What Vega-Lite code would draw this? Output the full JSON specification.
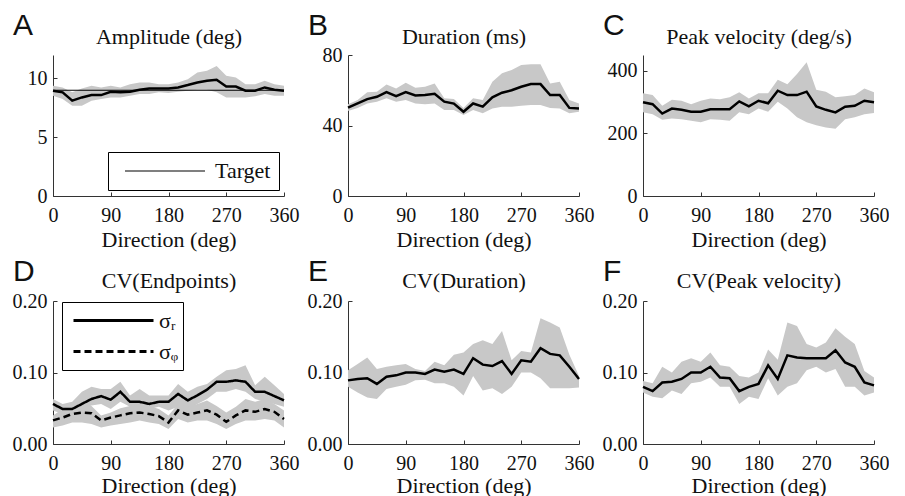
{
  "$schema": "https://vega.github.io/schema/vega-lite/v6.json",
  "padding": {"left": 12, "top": 10, "right": 0, "bottom": 0},
  "background": "white",
  "data": {"values": [
    {"p":"A","d":0,"m":8.96,"lo":8.54,"hi":9.38},{"p":"A","d":15,"m":8.82,"lo":8.25,"hi":9.24},{"p":"A","d":30,"m":8.11,"lo":7.69,"hi":8.82},{"p":"A","d":45,"m":8.39,"lo":7.69,"hi":9.15},{"p":"A","d":60,"m":8.59,"lo":8.11,"hi":9.38},{"p":"A","d":75,"m":8.59,"lo":8.25,"hi":9.24},{"p":"A","d":90,"m":8.87,"lo":8.39,"hi":9.38},{"p":"A","d":105,"m":8.82,"lo":8.39,"hi":9.24},{"p":"A","d":120,"m":8.87,"lo":8.54,"hi":9.52},{"p":"A","d":135,"m":9.04,"lo":8.68,"hi":9.66},{"p":"A","d":150,"m":9.15,"lo":8.68,"hi":9.66},{"p":"A","d":165,"m":9.15,"lo":8.82,"hi":9.52},{"p":"A","d":180,"m":9.15,"lo":8.76,"hi":9.52},{"p":"A","d":195,"m":9.24,"lo":8.87,"hi":9.66},{"p":"A","d":210,"m":9.44,"lo":8.96,"hi":9.94},{"p":"A","d":225,"m":9.66,"lo":9.04,"hi":10.51},{"p":"A","d":240,"m":9.8,"lo":9.04,"hi":10.65},{"p":"A","d":255,"m":9.89,"lo":8.82,"hi":11.07},{"p":"A","d":270,"m":9.32,"lo":8.39,"hi":10.23},{"p":"A","d":285,"m":9.32,"lo":8.39,"hi":10.08},{"p":"A","d":300,"m":8.96,"lo":8.39,"hi":9.52},{"p":"A","d":315,"m":8.96,"lo":8.48,"hi":9.52},{"p":"A","d":330,"m":9.24,"lo":8.68,"hi":9.8},{"p":"A","d":345,"m":9.04,"lo":8.54,"hi":9.52},{"p":"A","d":360,"m":8.96,"lo":8.54,"hi":9.38},
    {"p":"T","d":0,"m":9,"s":"Target"},{"p":"T","d":360,"m":9,"s":"Target"},
    {"p":"B","d":0,"m":50.1,"lo":48.2,"hi":52},{"p":"B","d":15,"m":52.5,"lo":50,"hi":54.4},{"p":"B","d":30,"m":55,"lo":52.5,"hi":58.8},{"p":"B","d":45,"m":56.3,"lo":53.5,"hi":59.2},{"p":"B","d":60,"m":59,"lo":55.4,"hi":63.3},{"p":"B","d":75,"m":56.7,"lo":53.5,"hi":61},{"p":"B","d":90,"m":59,"lo":54.4,"hi":64.3},{"p":"B","d":105,"m":57,"lo":52.5,"hi":61.4},{"p":"B","d":120,"m":57.3,"lo":52,"hi":62},{"p":"B","d":135,"m":58,"lo":52.5,"hi":63.9},{"p":"B","d":150,"m":53.5,"lo":48.8,"hi":55.4},{"p":"B","d":165,"m":52.4,"lo":48.8,"hi":55},{"p":"B","d":180,"m":47.8,"lo":46,"hi":50},{"p":"B","d":195,"m":52.5,"lo":48.8,"hi":55.4},{"p":"B","d":210,"m":50.7,"lo":46.9,"hi":54.4},{"p":"B","d":225,"m":56,"lo":49.7,"hi":64.8},{"p":"B","d":240,"m":58.6,"lo":50.7,"hi":69.6},{"p":"B","d":255,"m":60,"lo":50.7,"hi":71.5},{"p":"B","d":270,"m":62,"lo":51.2,"hi":74.3},{"p":"B","d":285,"m":63.5,"lo":51.6,"hi":74.7},{"p":"B","d":300,"m":63.5,"lo":51.6,"hi":74.7},{"p":"B","d":315,"m":57.3,"lo":50,"hi":63.9},{"p":"B","d":330,"m":57.3,"lo":49.7,"hi":64.8},{"p":"B","d":345,"m":50,"lo":46.9,"hi":54.4},{"p":"B","d":360,"m":49.7,"lo":47.8,"hi":52.5},
    {"p":"C","d":0,"m":299,"lo":267,"hi":328},{"p":"C","d":15,"m":293,"lo":261,"hi":322},{"p":"C","d":30,"m":263,"lo":243,"hi":288},{"p":"C","d":45,"m":279,"lo":247,"hi":307},{"p":"C","d":60,"m":275,"lo":245,"hi":304},{"p":"C","d":75,"m":269,"lo":240,"hi":293},{"p":"C","d":90,"m":269,"lo":235,"hi":304},{"p":"C","d":105,"m":277,"lo":245,"hi":311},{"p":"C","d":120,"m":277,"lo":243,"hi":309},{"p":"C","d":135,"m":277,"lo":240,"hi":315},{"p":"C","d":150,"m":302,"lo":267,"hi":331},{"p":"C","d":165,"m":286,"lo":261,"hi":311},{"p":"C","d":180,"m":304,"lo":279,"hi":328},{"p":"C","d":195,"m":296,"lo":269,"hi":328},{"p":"C","d":210,"m":336,"lo":301,"hi":371},{"p":"C","d":225,"m":322,"lo":279,"hi":357},{"p":"C","d":240,"m":322,"lo":251,"hi":389},{"p":"C","d":255,"m":333,"lo":235,"hi":427},{"p":"C","d":270,"m":286,"lo":226,"hi":339},{"p":"C","d":285,"m":275,"lo":219,"hi":333},{"p":"C","d":300,"m":267,"lo":215,"hi":315},{"p":"C","d":315,"m":285,"lo":245,"hi":318},{"p":"C","d":330,"m":288,"lo":251,"hi":322},{"p":"C","d":345,"m":304,"lo":261,"hi":343},{"p":"C","d":360,"m":299,"lo":265,"hi":331},
    {"p":"D","s":"σᵣ","d":0,"m":0.056,"lo":0.047,"hi":0.063},{"p":"D","s":"σᵣ","d":15,"m":0.049,"lo":0.042,"hi":0.056},{"p":"D","s":"σᵣ","d":30,"m":0.049,"lo":0.044,"hi":0.059},{"p":"D","s":"σᵣ","d":45,"m":0.056,"lo":0.049,"hi":0.073},{"p":"D","s":"σᵣ","d":60,"m":0.063,"lo":0.054,"hi":0.08},{"p":"D","s":"σᵣ","d":75,"m":0.067,"lo":0.056,"hi":0.077},{"p":"D","s":"σᵣ","d":90,"m":0.062,"lo":0.049,"hi":0.077},{"p":"D","s":"σᵣ","d":105,"m":0.073,"lo":0.059,"hi":0.087},{"p":"D","s":"σᵣ","d":120,"m":0.059,"lo":0.052,"hi":0.068},{"p":"D","s":"σᵣ","d":135,"m":0.059,"lo":0.049,"hi":0.077},{"p":"D","s":"σᵣ","d":150,"m":0.056,"lo":0.049,"hi":0.068},{"p":"D","s":"σᵣ","d":165,"m":0.059,"lo":0.052,"hi":0.068},{"p":"D","s":"σᵣ","d":180,"m":0.059,"lo":0.047,"hi":0.068},{"p":"D","s":"σᵣ","d":195,"m":0.07,"lo":0.052,"hi":0.084},{"p":"D","s":"σᵣ","d":210,"m":0.061,"lo":0.049,"hi":0.073},{"p":"D","s":"σᵣ","d":225,"m":0.068,"lo":0.056,"hi":0.08},{"p":"D","s":"σᵣ","d":240,"m":0.076,"lo":0.063,"hi":0.084},{"p":"D","s":"σᵣ","d":255,"m":0.087,"lo":0.073,"hi":0.094},{"p":"D","s":"σᵣ","d":270,"m":0.087,"lo":0.073,"hi":0.103},{"p":"D","s":"σᵣ","d":285,"m":0.089,"lo":0.077,"hi":0.105},{"p":"D","s":"σᵣ","d":300,"m":0.087,"lo":0.073,"hi":0.11},{"p":"D","s":"σᵣ","d":315,"m":0.073,"lo":0.063,"hi":0.082},{"p":"D","s":"σᵣ","d":330,"m":0.073,"lo":0.059,"hi":0.094},{"p":"D","s":"σᵣ","d":345,"m":0.067,"lo":0.056,"hi":0.082},{"p":"D","s":"σᵣ","d":360,"m":0.061,"lo":0.052,"hi":0.07},
    {"p":"D","s":"σᵩ","d":0,"m":0.033,"lo":0.023,"hi":0.04},{"p":"D","s":"σᵩ","d":15,"m":0.037,"lo":0.026,"hi":0.049},{"p":"D","s":"σᵩ","d":30,"m":0.042,"lo":0.03,"hi":0.052},{"p":"D","s":"σᵩ","d":45,"m":0.044,"lo":0.03,"hi":0.054},{"p":"D","s":"σᵩ","d":60,"m":0.043,"lo":0.028,"hi":0.053},{"p":"D","s":"σᵩ","d":75,"m":0.033,"lo":0.023,"hi":0.04},{"p":"D","s":"σᵩ","d":90,"m":0.037,"lo":0.026,"hi":0.044},{"p":"D","s":"σᵩ","d":105,"m":0.04,"lo":0.028,"hi":0.05},{"p":"D","s":"σᵩ","d":120,"m":0.043,"lo":0.03,"hi":0.053},{"p":"D","s":"σᵩ","d":135,"m":0.044,"lo":0.033,"hi":0.055},{"p":"D","s":"σᵩ","d":150,"m":0.042,"lo":0.03,"hi":0.053},{"p":"D","s":"σᵩ","d":165,"m":0.039,"lo":0.028,"hi":0.049},{"p":"D","s":"σᵩ","d":180,"m":0.03,"lo":0.021,"hi":0.04},{"p":"D","s":"σᵩ","d":195,"m":0.047,"lo":0.035,"hi":0.056},{"p":"D","s":"σᵩ","d":210,"m":0.041,"lo":0.03,"hi":0.052},{"p":"D","s":"σᵩ","d":225,"m":0.044,"lo":0.033,"hi":0.056},{"p":"D","s":"σᵩ","d":240,"m":0.047,"lo":0.033,"hi":0.061},{"p":"D","s":"σᵩ","d":255,"m":0.041,"lo":0.028,"hi":0.053},{"p":"D","s":"σᵩ","d":270,"m":0.031,"lo":0.021,"hi":0.044},{"p":"D","s":"σᵩ","d":285,"m":0.04,"lo":0.028,"hi":0.052},{"p":"D","s":"σᵩ","d":300,"m":0.047,"lo":0.033,"hi":0.063},{"p":"D","s":"σᵩ","d":315,"m":0.045,"lo":0.033,"hi":0.059},{"p":"D","s":"σᵩ","d":330,"m":0.049,"lo":0.035,"hi":0.063},{"p":"D","s":"σᵩ","d":345,"m":0.045,"lo":0.033,"hi":0.056},{"p":"D","s":"σᵩ","d":360,"m":0.035,"lo":0.023,"hi":0.047},
    {"p":"E","d":0,"m":0.089,"lo":0.08,"hi":0.103},{"p":"E","d":15,"m":0.091,"lo":0.072,"hi":0.112},{"p":"E","d":30,"m":0.092,"lo":0.065,"hi":0.121},{"p":"E","d":45,"m":0.084,"lo":0.063,"hi":0.105},{"p":"E","d":60,"m":0.094,"lo":0.077,"hi":0.108},{"p":"E","d":75,"m":0.096,"lo":0.08,"hi":0.11},{"p":"E","d":90,"m":0.1,"lo":0.083,"hi":0.112},{"p":"E","d":105,"m":0.1,"lo":0.089,"hi":0.105},{"p":"E","d":120,"m":0.098,"lo":0.09,"hi":0.102},{"p":"E","d":135,"m":0.104,"lo":0.085,"hi":0.115},{"p":"E","d":150,"m":0.101,"lo":0.085,"hi":0.11},{"p":"E","d":165,"m":0.104,"lo":0.08,"hi":0.125},{"p":"E","d":180,"m":0.098,"lo":0.068,"hi":0.128},{"p":"E","d":195,"m":0.12,"lo":0.095,"hi":0.14},{"p":"E","d":210,"m":0.111,"lo":0.075,"hi":0.145},{"p":"E","d":225,"m":0.109,"lo":0.078,"hi":0.14},{"p":"E","d":240,"m":0.116,"lo":0.07,"hi":0.158},{"p":"E","d":255,"m":0.098,"lo":0.08,"hi":0.117},{"p":"E","d":270,"m":0.117,"lo":0.1,"hi":0.13},{"p":"E","d":285,"m":0.115,"lo":0.1,"hi":0.128},{"p":"E","d":300,"m":0.134,"lo":0.092,"hi":0.176},{"p":"E","d":315,"m":0.126,"lo":0.078,"hi":0.17},{"p":"E","d":330,"m":0.124,"lo":0.078,"hi":0.163},{"p":"E","d":345,"m":0.108,"lo":0.078,"hi":0.125},{"p":"E","d":360,"m":0.091,"lo":0.079,"hi":0.095},
    {"p":"F","d":0,"m":0.08,"lo":0.072,"hi":0.088},{"p":"F","d":15,"m":0.074,"lo":0.066,"hi":0.085},{"p":"F","d":30,"m":0.086,"lo":0.064,"hi":0.108},{"p":"F","d":45,"m":0.087,"lo":0.075,"hi":0.1},{"p":"F","d":60,"m":0.091,"lo":0.07,"hi":0.115},{"p":"F","d":75,"m":0.1,"lo":0.085,"hi":0.12},{"p":"F","d":90,"m":0.1,"lo":0.087,"hi":0.115},{"p":"F","d":105,"m":0.108,"lo":0.093,"hi":0.128},{"p":"F","d":120,"m":0.093,"lo":0.08,"hi":0.11},{"p":"F","d":135,"m":0.092,"lo":0.08,"hi":0.108},{"p":"F","d":150,"m":0.074,"lo":0.056,"hi":0.095},{"p":"F","d":165,"m":0.08,"lo":0.066,"hi":0.093},{"p":"F","d":180,"m":0.084,"lo":0.063,"hi":0.1},{"p":"F","d":195,"m":0.11,"lo":0.092,"hi":0.132},{"p":"F","d":210,"m":0.091,"lo":0.068,"hi":0.118},{"p":"F","d":225,"m":0.124,"lo":0.08,"hi":0.17},{"p":"F","d":240,"m":0.121,"lo":0.085,"hi":0.165},{"p":"F","d":255,"m":0.12,"lo":0.103,"hi":0.14},{"p":"F","d":270,"m":0.12,"lo":0.108,"hi":0.135},{"p":"F","d":285,"m":0.12,"lo":0.1,"hi":0.142},{"p":"F","d":300,"m":0.131,"lo":0.105,"hi":0.162},{"p":"F","d":315,"m":0.114,"lo":0.08,"hi":0.15},{"p":"F","d":330,"m":0.108,"lo":0.08,"hi":0.14},{"p":"F","d":345,"m":0.086,"lo":0.068,"hi":0.102},{"p":"F","d":360,"m":0.082,"lo":0.072,"hi":0.093}
  ]},
  "columns": 3,
  "spacing": {"row": 105, "column": 64},
  "bounds": "flush",
  "resolve": {"scale": {"color": "independent", "strokeDash": "independent"}, "legend": {"color": "independent", "strokeDash": "independent"}},
  "concat": [
    {
      "width": 231, "height": 141,
      "title": {"text": "A", "offset": -15},
      "layer": [
        {"transform": [{"filter": "datum.p === 'A'"}], "mark": {"type": "area", "color": "#c8c8c8"},
         "encoding": {
           "x": {"field": "d", "type": "quantitative", "scale": {"domain": [0, 360], "nice": false}, "axis": {"values": [0, 90, 180, 270, 360], "title": "Direction (deg)"}},
           "y": {"field": "lo", "type": "quantitative", "scale": {"domain": [0, 12], "nice": false}, "axis": {"values": [0, 5, 10], "title": "Amplitude (deg)", "titleY": -11.5}},
           "y2": {"field": "hi"}}},
        {"transform": [{"filter": "datum.p === 'T'"}], "mark": {"type": "line", "strokeWidth": 1.2},
         "encoding": {
           "x": {"field": "d", "type": "quantitative"},
           "y": {"field": "m", "type": "quantitative"},
           "color": {"field": "s", "type": "nominal", "scale": {"range": ["black"]},
             "legend": {"title": null, "orient": "none", "legendX": 55, "legendY": 97, "symbolType": "stroke", "symbolSize": 6400, "symbolStrokeWidth": 1.2, "clipHeight": 22, "padding": 8, "symbolOffset": 8, "labelOffset": 9}}}},
        {"transform": [{"filter": "datum.p === 'A'"}], "mark": {"type": "line", "color": "black", "strokeWidth": 2.5},
         "encoding": {"x": {"field": "d", "type": "quantitative"}, "y": {"field": "m", "type": "quantitative"}}}
      ]
    },
    {
      "width": 231, "height": 141,
      "title": {"text": "B", "offset": -15},
      "transform": [{"filter": "datum.p === 'B'"}],
      "layer": [
        {"mark": {"type": "area", "color": "#c8c8c8"},
         "encoding": {
           "x": {"field": "d", "type": "quantitative", "scale": {"domain": [0, 360], "nice": false}, "axis": {"values": [0, 90, 180, 270, 360], "title": "Direction (deg)"}},
           "y": {"field": "lo", "type": "quantitative", "scale": {"domain": [0, 80], "nice": false}, "axis": {"values": [0, 20, 40, 60, 80], "title": "Duration (ms)", "titleY": -11.5}},
           "y2": {"field": "hi"}}},
        {"mark": {"type": "line", "color": "black", "strokeWidth": 2.5},
         "encoding": {"x": {"field": "d", "type": "quantitative"}, "y": {"field": "m", "type": "quantitative"}}}
      ]
    },
    {
      "width": 231, "height": 141,
      "title": {"text": "C", "offset": -15},
      "transform": [{"filter": "datum.p === 'C'"}],
      "layer": [
        {"mark": {"type": "area", "color": "#c8c8c8"},
         "encoding": {
           "x": {"field": "d", "type": "quantitative", "scale": {"domain": [0, 360], "nice": false}, "axis": {"values": [0, 90, 180, 270, 360], "title": "Direction (deg)"}},
           "y": {"field": "lo", "type": "quantitative", "scale": {"domain": [0, 450], "nice": false}, "axis": {"values": [0, 100, 200, 300, 400], "title": "Peak velocity (deg/s)", "titleY": -11.5}},
           "y2": {"field": "hi"}}},
        {"mark": {"type": "line", "color": "black", "strokeWidth": 2.5},
         "encoding": {"x": {"field": "d", "type": "quantitative"}, "y": {"field": "m", "type": "quantitative"}}}
      ]
    },
    {
      "width": 231, "height": 143,
      "title": {"text": "D", "offset": -17},
      "transform": [{"filter": "datum.p === 'D'"}],
      "layer": [
        {"mark": {"type": "area", "color": "#c8c8c8"},
         "encoding": {
           "x": {"field": "d", "type": "quantitative", "scale": {"domain": [0, 360], "nice": false}, "axis": {"values": [0, 90, 180, 270, 360], "title": "Direction (deg)", "titleY": 48}},
           "y": {"field": "lo", "type": "quantitative", "scale": {"domain": [0, 0.2], "nice": false}, "axis": {"values": [0, 0.05, 0.1, 0.15, 0.2], "format": ".2f", "title": "CV(Endpoints)", "titleY": -13.5}},
           "y2": {"field": "hi"},
           "detail": {"field": "s", "type": "nominal"}}},
        {"mark": {"type": "line", "color": "black", "strokeWidth": 2.5},
         "encoding": {"x": {"field": "d", "type": "quantitative"}, "y": {"field": "m", "type": "quantitative"},
           "strokeDash": {"field": "s", "type": "nominal", "scale": {"domain": ["σᵣ", "σᵩ"], "range": [[1, 0], [7, 4]]},
             "legend": {"title": null, "orient": "none", "legendX": 9, "legendY": 1, "symbolType": "stroke", "symbolSize": 6400, "symbolStrokeWidth": 3, "clipHeight": 29, "padding": 4, "symbolOffset": 6, "labelOffset": 4}}}}
      ]
    },
    {
      "width": 231, "height": 143,
      "title": {"text": "E", "offset": -17},
      "transform": [{"filter": "datum.p === 'E'"}],
      "layer": [
        {"mark": {"type": "area", "color": "#c8c8c8"},
         "encoding": {
           "x": {"field": "d", "type": "quantitative", "scale": {"domain": [0, 360], "nice": false}, "axis": {"values": [0, 90, 180, 270, 360], "title": "Direction (deg)", "titleY": 48}},
           "y": {"field": "lo", "type": "quantitative", "scale": {"domain": [0, 0.2], "nice": false}, "axis": {"values": [0, 0.05, 0.1, 0.15, 0.2], "format": ".2f", "title": "CV(Duration)", "titleY": -13.5}},
           "y2": {"field": "hi"}}},
        {"mark": {"type": "line", "color": "black", "strokeWidth": 2.5},
         "encoding": {"x": {"field": "d", "type": "quantitative"}, "y": {"field": "m", "type": "quantitative"}}}
      ]
    },
    {
      "width": 231, "height": 143,
      "title": {"text": "F", "offset": -17},
      "transform": [{"filter": "datum.p === 'F'"}],
      "layer": [
        {"mark": {"type": "area", "color": "#c8c8c8"},
         "encoding": {
           "x": {"field": "d", "type": "quantitative", "scale": {"domain": [0, 360], "nice": false}, "axis": {"values": [0, 90, 180, 270, 360], "title": "Direction (deg)", "titleY": 48}},
           "y": {"field": "lo", "type": "quantitative", "scale": {"domain": [0, 0.2], "nice": false}, "axis": {"values": [0, 0.05, 0.1, 0.15, 0.2], "format": ".2f", "title": "CV(Peak velocity)", "titleY": -13.5}},
           "y2": {"field": "hi"}}},
        {"mark": {"type": "line", "color": "black", "strokeWidth": 2.5},
         "encoding": {"x": {"field": "d", "type": "quantitative"}, "y": {"field": "m", "type": "quantitative"}}}
      ]
    }
  ],
  "config": {
    "view": {"stroke": null},
    "font": "Liberation Serif",
    "title": {"anchor": "start", "frame": "group", "dx": -40, "font": "Liberation Sans", "fontSize": 30, "fontWeight": "normal", "baseline": "alphabetic", "color": "#111"},
    "axis": {"grid": false, "domainColor": "#333", "tickColor": "#333", "domainWidth": 1, "tickWidth": 1, "tickSize": -4, "labelFont": "Liberation Serif", "labelFontSize": 20, "labelColor": "#111", "labelFlush": false, "labelOverlap": false, "titleFont": "Liberation Serif", "titleFontSize": 22, "titleFontWeight": "normal", "titleColor": "#111"},
    "axisX": {"labelPadding": 13, "titleY": 50, "titleBaseline": "alphabetic"},
    "axisY": {"labelPadding": 10, "titleAngle": 0, "titleAlign": "center", "titleBaseline": "alphabetic", "titleX": 115.5},
    "legend": {"labelFont": "Liberation Serif", "labelFontSize": 22, "labelColor": "#111", "strokeColor": "black", "fillColor": "white", "symbolStrokeColor": "black"}
  }
}
